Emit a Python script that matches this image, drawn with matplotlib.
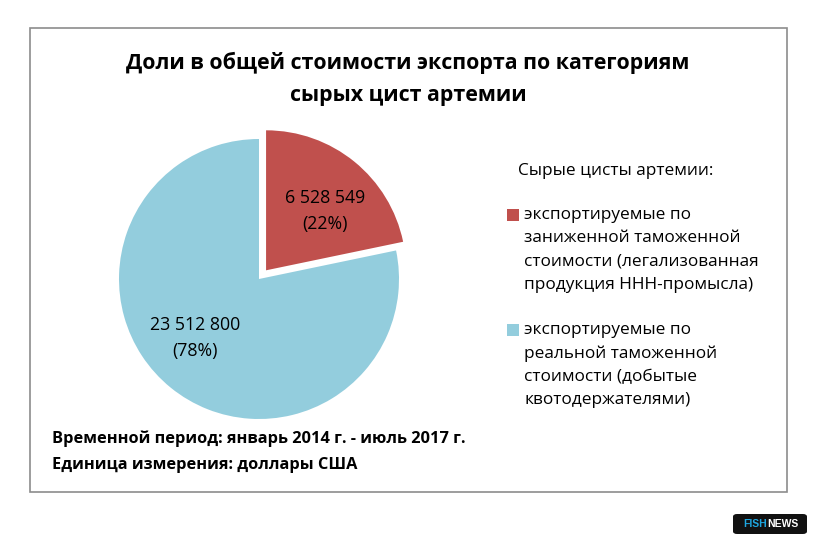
import matplotlib.pyplot as plt
from matplotlib.patches import Rectangle, FancyBboxPatch

plt.rcParams['font.family'] = ['Open Sans', 'DejaVu Sans']

# data
values = [6528549, 23512800]
value_labels = ['6 528 549\n(22%)', '23 512 800\n(78%)']
colors = ['#C0504D', '#93CDDD']
legend_title = 'Сырые цисты артемии:'
legend_items = [
    'экспортируемые по\nзаниженной таможенной\nстоимости (легализованная\nпродукция ННН-промысла)',
    'экспортируемые по\nреальной таможенной\nстоимости (добытые\nквотодержателями)',
]
title = 'Доли в общей стоимости экспорта по категориям\nсырых цист артемии'
footer = ['Временной период: январь 2014 г. - июль 2017 г.',
          'Единица измерения: доллары США']

W, H = 817, 544
fig = plt.figure(figsize=(W / 100, H / 100), dpi=100)
fig.patch.set_facecolor('white')


def px(x, y):
    return x / W, 1 - y / H


# outer frame
l, t = px(30, 28)
r, b = px(787, 492)
fig.patches.append(Rectangle((l, b), r - l, t - b, transform=fig.transFigure,
                             fill=False, edgecolor='#8C8C8C', linewidth=1.2))

# title
fig.text(*px(408, 79), title, ha='center', va='center', fontsize=15.4,
         fontweight='bold', linespacing=1.7, color='black')

# pie
cx, cy, rad = 259, 279, 139
half = 175
ax = fig.add_axes([(cx - half) / W, (H - cy - half) / H, 2 * half / W, 2 * half / H])
ax.set_xlim(-half / rad, half / rad)
ax.set_ylim(-half / rad, half / rad)
ax.set_aspect('equal')
ax.axis('off')
wedges, texts = ax.pie(values, colors=colors, startangle=90, counterclock=False,
                       explode=[0.08, 0], radius=1,
                       wedgeprops=dict(linewidth=0))

fig.text(*px(325, 211), value_labels[0], ha='center', va='center',
         fontsize=12.8, linespacing=1.6, color='black')
fig.text(*px(195, 338), value_labels[1], ha='center', va='center',
         fontsize=12.8, linespacing=1.6, color='black')

# legend
fig.text(*px(518, 171), legend_title, ha='left', va='center', fontsize=12.4)
for item, col, ytop in zip(legend_items, colors, [215, 330]):
    sx, sy = px(507, ytop + 6)
    fig.patches.append(Rectangle((sx, sy), 12 / W, 12 / H, transform=fig.transFigure,
                                 facecolor=col, edgecolor='none'))
    fig.text(*px(524, ytop - 8), item, ha='left', va='top', fontsize=12.4,
             linespacing=1.6)

# footer
fig.text(*px(52, 439), footer[0], ha='left', va='center', fontsize=11.8,
         fontweight='bold')
fig.text(*px(52, 465), footer[1], ha='left', va='center', fontsize=11.8,
         fontweight='bold')

# logo
lx, ly = px(733, 534)
fig.patches.append(FancyBboxPatch((lx, ly), 74 / W, 20 / H, transform=fig.transFigure,
                                  boxstyle='round,pad=0,rounding_size=0.005',
                                  facecolor='#111111', edgecolor='none'))
fig.text(*px(767, 524), 'FISH', ha='right', va='center', fontsize=7.5,
         fontweight='bold', color='#1EA7E1', family='Liberation Sans')
fig.text(*px(767, 524), 'NEWS', ha='left', va='center', fontsize=7.5,
         fontweight='bold', color='white', family='Liberation Sans')

fig.savefig('out.png', dpi=100, facecolor='white')
